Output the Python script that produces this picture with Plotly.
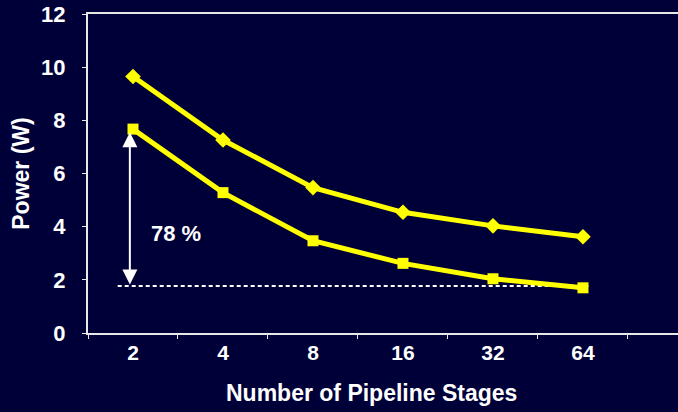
import plotly.graph_objects as go

stages = ["2", "4", "8", "16", "32", "64"]
power_upper = [9.65, 7.26, 5.47, 4.54, 4.03, 3.62]
power_lower = [7.67, 5.28, 3.47, 2.62, 2.04, 1.70]
baseline = 1.77
reduction_label = "78 %"
y_ticks = [0, 2, 4, 6, 8, 10, 12]
x_title = "Number of Pipeline Stages"
y_title = "Power (W)"

BG = "#000038"
YEL = "#ffff00"
FONT = "Liberation Sans, Arial, sans-serif"

fig = go.Figure()
fig.add_trace(go.Scatter(x=stages, y=power_upper, mode="lines+markers",
                         line=dict(color=YEL, width=5),
                         marker=dict(symbol="diamond", size=12, color=YEL)))
fig.add_trace(go.Scatter(x=stages, y=power_lower, mode="lines+markers",
                         line=dict(color=YEL, width=5),
                         marker=dict(symbol="square", size=11, color=YEL)))

# dashed reference line at baseline level
fig.add_shape(type="line", xref="x", yref="y", x0=-0.17, x1=5.06,
              y0=baseline, y1=baseline,
              line=dict(color="white", width=2, dash="4px,3px"), layer="below")

# double-headed arrow from baseline to first value of lower series
fig.add_annotation(x=-0.035, y=power_lower[0] - 0.12, ax=-0.035, ay=baseline,
                   xref="x", yref="y", axref="x", ayref="y",
                   text="", showarrow=True, arrowhead=2, arrowsize=1.5,
                   arrowwidth=2, arrowcolor="white", arrowside="end+start",
                   standoff=0, startstandoff=0)
fig.add_annotation(x=0.48, y=3.75, xref="x", yref="y", text="<b>" + reduction_label + "</b>",
                   showarrow=False, font=dict(family=FONT, size=22, color="white"))

# x-axis title (slightly left of plot-area centre, as in the original)
fig.add_annotation(x=0.481, y=-0.188, xref="paper", yref="paper",
                   xanchor="center", yanchor="middle", showarrow=False,
                   text="<b>" + x_title + "</b>",
                   font=dict(family=FONT, size=23, color="white"))

fig.update_layout(
    width=678, height=412,
    paper_bgcolor=BG, plot_bgcolor=BG,
    margin=dict(l=88, r=0, t=14, b=79, autoexpand=False),
    showlegend=False,
    font=dict(family=FONT, color="white"),
    xaxis=dict(
        type="category", categoryorder="array", categoryarray=stages,
        range=[-0.5, 6.056],
        showline=True, linecolor="#e8e8e8", linewidth=2, mirror=True,
        showgrid=False, zeroline=False,
        ticks="outside", tickson="boundaries", ticklen=4, tickcolor="#e8e8e8",
        tickwidth=1,
        tickfont=dict(family=FONT, size=21, color="white", weight="bold"),
        ticklabelstandoff=0,
        automargin=False,
    ),
    yaxis=dict(
        range=[0, 12], tickvals=y_ticks,
        showline=True, linecolor="#e8e8e8", linewidth=2,
        showgrid=False, zeroline=False,
        ticks="outside", ticklen=4, tickcolor="#e8e8e8", tickwidth=1,
        tickfont=dict(family=FONT, size=22, color="white", weight="bold"),
        ticklabelstandoff=12,
        title=dict(text="<b>" + y_title + "</b>",
                   font=dict(family=FONT, size=23, color="white"), standoff=5),
        automargin=False,
    ),
)

fig.write_html("out.html",
               config={"displayModeBar": False},
               post_script="document.body.style.margin='0';"
                           "document.body.style.background='" + BG + "';")
